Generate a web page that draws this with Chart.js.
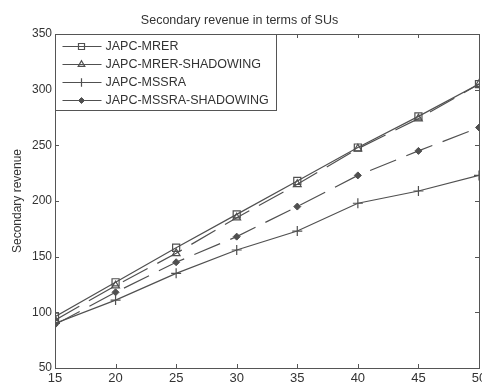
<!DOCTYPE html>
<html>
<head>
<meta charset="utf-8">
<script src="https://cdn.jsdelivr.net/npm/chart.js@4.4.1/dist/chart.umd.min.js"></script>
<style>
  html, body { margin: 0; padding: 0; background: #fff; overflow: hidden; }
</style>
</head>
<body>
<canvas id="myChart" width="500" height="385"></canvas>
<script>
const X_VALUES = [15, 20, 25, 30, 35, 40, 45, 50];
const MRER = [96, 127, 158, 188, 218, 248, 276, 305];
const MRER_SHADOWING = [93, 124, 153, 185, 215, 247, 274, 305];
const MSSRA = [90, 111, 135, 156, 173, 198, 209, 223];
const MSSRA_SHADOWING = [89, 118, 145, 168, 195, 223, 245, 266];
const LINE_COLOR = "#505050";
const TEXT_COLOR = "#333";
const FONT = "'Liberation Sans', Arial, sans-serif";

function series(values) {
  return values.map((v, i) => ({ x: X_VALUES[i], y: v }));
}

const data = {
  datasets: [
    {
      label: "JAPC-MRER",
      data: series(MRER),
      borderColor: LINE_COLOR,
      borderWidth: 1.2,
      pointStyle: "rect",
      pointRadius: 5,
      pointBorderColor: LINE_COLOR,
      pointBackgroundColor: "rgba(0,0,0,0)",
      pointBorderWidth: 1.2,
    },
    {
      label: "JAPC-MRER-SHADOWING",
      data: series(MRER_SHADOWING),
      borderColor: LINE_COLOR,
      borderWidth: 1.2,
      borderDash: [28, 11],
      pointStyle: "triangle",
      pointRadius: 4.5,
      pointBorderColor: LINE_COLOR,
      pointBackgroundColor: "rgba(0,0,0,0)",
      pointBorderWidth: 1.2,
    },
    {
      label: "JAPC-MSSRA",
      data: series(MSSRA),
      borderColor: LINE_COLOR,
      borderWidth: 1.2,
      pointStyle: "cross",
      pointRadius: 5,
      pointBorderColor: LINE_COLOR,
      pointBorderWidth: 1.2,
    },
    {
      label: "JAPC-MSSRA-SHADOWING",
      data: series(MSSRA_SHADOWING),
      borderColor: LINE_COLOR,
      borderWidth: 1.2,
      borderDash: [28, 11],
      pointStyle: "rectRot",
      pointRadius: 3.5,
      pointBorderColor: LINE_COLOR,
      pointBackgroundColor: LINE_COLOR,
      pointBorderWidth: 1,
    },
  ],
};

// Box around the plot with inward tick marks (MATLAB look).
const framePlugin = {
  id: "frame",
  afterDatasetsDraw(chart) {
    const { ctx, chartArea: a, scales } = chart;
    ctx.save();
    ctx.strokeStyle = "#555";
    ctx.lineWidth = 1;
    ctx.strokeRect(Math.round(a.left) + 0.5, Math.round(a.top) + 0.5,
      Math.round(a.right - a.left), Math.round(a.bottom - a.top));
    ctx.beginPath();
    scales.x.ticks.forEach(t => {
      const px = Math.round(scales.x.getPixelForValue(t.value)) + 0.5;
      ctx.moveTo(px, a.bottom); ctx.lineTo(px, a.bottom - 4);
      ctx.moveTo(px, a.top); ctx.lineTo(px, a.top + 4);
    });
    scales.y.ticks.forEach(t => {
      const py = Math.round(scales.y.getPixelForValue(t.value)) + 0.5;
      ctx.moveTo(a.left, py); ctx.lineTo(a.left + 4, py);
      ctx.moveTo(a.right, py); ctx.lineTo(a.right - 4, py);
    });
    ctx.stroke();
    ctx.restore();
  },
};

// Legend drawn in a box at the top-left corner of the plot.
const boxLegendPlugin = {
  id: "boxLegend",
  afterDraw(chart) {
    const { ctx, chartArea: a } = chart;
    const left = Math.round(a.left) + 0.5;
    const top = Math.round(a.top) + 0.5;
    const w = 221, h = 76;
    ctx.save();
    ctx.fillStyle = "#fff";
    ctx.fillRect(left, top, w, h);
    ctx.strokeStyle = "#555";
    ctx.lineWidth = 1;
    ctx.strokeRect(left, top, w, h);
    ctx.font = "12.5px " + FONT;
    ctx.textBaseline = "middle";
    chart.data.datasets.forEach((ds, i) => {
      const y = top + 12 + i * 18;
      ctx.strokeStyle = ds.borderColor;
      ctx.lineWidth = ds.borderWidth;
      ctx.setLineDash([]);
      ctx.beginPath();
      ctx.moveTo(left + 7, y);
      ctx.lineTo(left + 46, y);
      ctx.stroke();
      ctx.fillStyle = ds.pointBackgroundColor || "rgba(0,0,0,0)";
      ctx.strokeStyle = ds.pointBorderColor;
      ctx.lineWidth = ds.pointBorderWidth;
      Chart.helpers.drawPoint(ctx, {
        pointStyle: ds.pointStyle,
        radius: ds.pointRadius * 0.85,
        rotation: 0,
        borderWidth: ds.pointBorderWidth,
      }, left + 26, y);
      ctx.fillStyle = TEXT_COLOR;
      ctx.fillText(ds.label, left + 50, y + 0.5);
    });
    ctx.restore();
  },
};

const config = {
  type: "line",
  data: data,
  options: {
    responsive: false,
    animation: false,
    layout: { padding: { left: 0, right: 21, top: 0, bottom: 0 } },
    elements: { line: { tension: 0 } },
    plugins: {
      legend: { display: false },
      tooltip: { enabled: false },
      title: {
        display: true,
        text: "Secondary revenue in terms of SUs",
        color: TEXT_COLOR,
        font: { family: FONT, size: 12.5, weight: "normal" },
        padding: { top: 13, bottom: 6 },
      },
    },
    scales: {
      x: {
        type: "linear",
        min: 15,
        max: 50,
        ticks: { stepSize: 5, color: TEXT_COLOR, padding: 3, font: { family: FONT, size: 13 } },
        grid: { display: false, drawTicks: false },
        border: { display: false },
        afterFit(scale) { scale.height = 17; },
      },
      y: {
        min: 50,
        max: 350,
        ticks: { stepSize: 50, color: TEXT_COLOR, padding: 3, font: { family: FONT, size: 12 } },
        grid: { display: false, drawTicks: false },
        border: { display: false },
        title: {
          display: true,
          text: "Secondary revenue",
          color: TEXT_COLOR,
          font: { family: FONT, size: 12 },
          padding: { top: 10, bottom: 0 },
        },
        afterFit(scale) { scale.width = 55; },
      },
    },
  },
  plugins: [framePlugin, boxLegendPlugin],
};

const myChart = new Chart(document.getElementById("myChart"), config);
</script>
</body>
</html>
